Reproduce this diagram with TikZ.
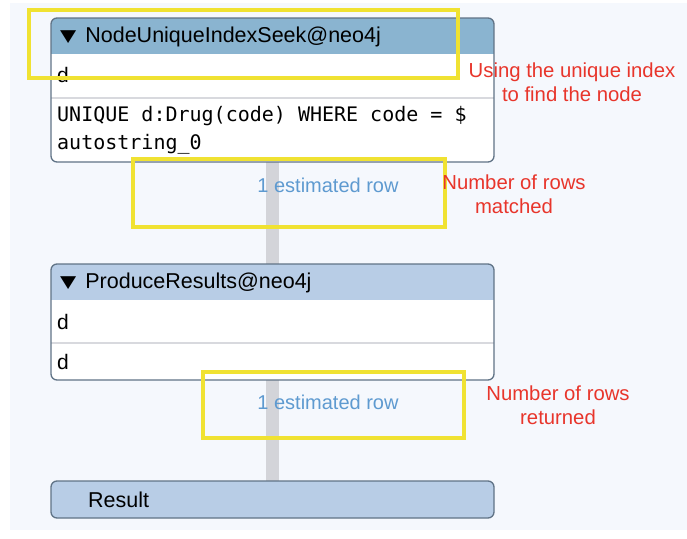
\documentclass[tikz,border=0pt]{standalone}
\usepackage{fontspec}
\setmainfont{Liberation Sans}
\newfontfamily\monof{DejaVu Sans Mono}
\newfontfamily\symf{DejaVu Sans}
\definecolor{bgpanel}{HTML}{F5F8FD}
\definecolor{hdrdark}{HTML}{8AB4D0}
\definecolor{hdrlight}{HTML}{B8CDE6}
\definecolor{boxline}{HTML}{607386}
\definecolor{sepline}{HTML}{D8D9DE}
\definecolor{pipe}{HTML}{D3D4D9}
\definecolor{rowblue}{HTML}{5E9AD0}
\definecolor{hiyellow}{HTML}{F0E232}
\definecolor{notered}{HTML}{E8352B}
\tikzset{
  x=1pt, y=-1pt,
  opbox/.style={draw=boxline, line width=1.3pt, rounded corners=6pt},
  pipeline/.style={draw=pipe, line width=13pt},
  hilite/.style={draw=hiyellow, line width=4pt},
  hdrtext/.style={anchor=west, font=\fontsize{21.5}{24}\selectfont, inner sep=0pt},
  celltext/.style={anchor=west, font=\fontsize{21}{24}\selectfont, inner sep=0pt},
  monotext/.style={anchor=west, font=\monof\fontsize{20}{22}\selectfont, inner sep=0pt},
  rowtext/.style={font=\fontsize{20}{22}\selectfont, text=rowblue, inner sep=0pt},
  note/.style={font=\fontsize{20.3}{24}\selectfont, text=notered, align=center, inner sep=0pt},
}
\newcommand{\tri}{\raisebox{1pt}{\symf\fontsize{21}{20}\selectfont\scalebox{1}[0.8]{▼}}}
\begin{document}
\begin{tikzpicture}
\useasboundingbox (0,0) rectangle (687,538);
\fill[white] (0,0) rectangle (687,538);
\fill[bgpanel] (10,3) rectangle (687,530);

% pipes
\coordinate (p1a) at (272,162);
\coordinate (p1b) at (272,264);
\coordinate (p2a) at (272,380);
\coordinate (p2b) at (272,481);
\draw[pipeline] (p1a) -- (p1b);
\draw[pipeline] (p2a) -- (p2b);

% box 1
\begin{scope}
\clip[rounded corners=6pt] (51,18) rectangle (494,162);
\fill[white] (51,18) rectangle (494,162);
\fill[hdrdark] (51,18) rectangle (494,54);
\draw[sepline, line width=1.2pt] (51,98) -- (494,98);
\end{scope}
\draw[opbox] (51,18) rectangle (494,162);
\node[hdrtext] (h1) at (60,37) {\tri\hspace{9pt}NodeUniqueIndexSeek@neo4j};
\node[celltext] (d1) at (57,75) {d};
\node[monotext] (m1) at (57,116) {UNIQUE d:Drug(code) WHERE code = \$};
\node[monotext] (m2) at (57,144) {autostring\_0};

% box 2
\begin{scope}
\clip[rounded corners=6pt] (51,264) rectangle (494,380);
\fill[white] (51,264) rectangle (494,380);
\fill[hdrlight] (51,264) rectangle (494,300);
\draw[sepline, line width=1.2pt] (51,343) -- (494,343);
\end{scope}
\draw[opbox] (51,264) rectangle (494,380);
\node[hdrtext] (h2) at (60,283) {\tri\hspace{9pt}ProduceResults@neo4j};
\node[celltext] (d2) at (57,322) {d};
\node[celltext] (d3) at (57,362) {d};

% result
\draw[opbox, fill=hdrlight] (51,481) rectangle (494,518);
\node[hdrtext] (res) at (88,500) {Result};

% row estimates
\node[rowtext] (r1) at (328,185) {1 estimated row};
\node[rowtext] (r2) at (328,402) {1 estimated row};

% highlights
\draw[hilite] (29,10) rectangle (458,78);
\draw[hilite] (133,159) rectangle (445,227);
\draw[hilite] (203,372) rectangle (464,438);

% notes
\node[note] (n1) at (572,82) {Using the unique index\\to find the node};
\node[note] (n2) at (514,194) {Number of rows\\matched};
\node[note] (n3) at (558,405) {Number of rows\\returned};
\end{tikzpicture}
\end{document}
